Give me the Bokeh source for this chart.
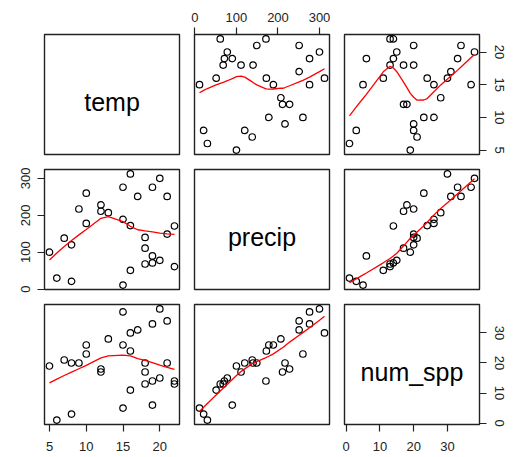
import numpy as np
from bokeh.plotting import figure
from bokeh.models import Range1d, LinearAxis, FixedTicker
from bokeh.layouts import column, row
from bokeh.embed import file_html
from bokeh.resources import INLINE
from bokeh.core.properties import value

# ---- data ----
names = ["temp", "precip", "num_spp"]
temp = [5, 6, 7, 8, 8, 9, 10, 10, 12, 12, 13, 15, 15, 15, 16, 16, 16, 17,
        18, 18, 18, 19, 19, 19, 20, 20, 21, 21, 22, 22]
precip = [100, 30, 138, 120, 21, 217, 260, 178, 228, 211, 207, 276, 189, 11,
          312, 172, 51, 251, 140, 111, 68, 276, 90, 71, 300, 78, 251, 149, 171, 61]
num_spp = [19, 1, 21, 20, 3, 20, 23, 26, 18, 17, 28, 37, 26, 5, 30, 24, 11, 31,
           20, 17, 13, 33, 6, 14, 38, 15, 34, 20, 14, 13]
tick_temp = [5, 10, 15, 20]
tick_precip = [0, 100, 200, 300]
tick_num = [0, 10, 20, 30]

data = {"temp": temp, "precip": precip, "num_spp": num_spp}
ticks = {"temp": tick_temp, "precip": tick_precip, "num_spp": tick_num}


def r_lowess(x, y, f=2 / 3, iters=3):
    """Port of R's clowess (stats::lowess)."""
    x = np.asarray(x, float)
    y = np.asarray(y, float)
    o = np.argsort(x, kind="stable")
    x = x[o]
    y = y[o]
    n = len(x)
    ns = max(2, min(n, int(f * n + 1e-7)))
    rng = x[-1] - x[0]
    delta = 0.01 * rng
    rw = np.ones(n)
    ys = np.zeros(n)

    def lowest(xs, nleft, nright, userw):
        h = max(xs - x[nleft], x[nright] - xs)
        h9 = 0.999 * h
        h1 = 0.001 * h
        w = np.zeros(n)
        a = 0.0
        j = nleft
        while j < n:
            r = abs(x[j] - xs)
            if r <= h9:
                if r <= h1:
                    w[j] = 1.0
                else:
                    w[j] = (1 - (r / h) ** 3) ** 3
                if userw:
                    w[j] *= rw[j]
                a += w[j]
            elif x[j] > xs:
                break
            j += 1
        nrt = j - 1
        if a <= 0:
            return None
        sl = slice(nleft, nrt + 1)
        w[sl] /= a
        if h > 0:
            a = np.sum(w[sl] * x[sl])
            b = xs - a
            c = np.sum(w[sl] * (x[sl] - a) ** 2)
            if np.sqrt(c) > 0.001 * rng:
                b /= c
                w[sl] *= b * (x[sl] - a) + 1.0
        return np.sum(w[sl] * y[sl])

    it = 1
    while it <= iters + 1:
        nleft, nright, last, i = 0, ns - 1, -1, 0
        while True:
            if nright < n - 1:
                d1 = x[i] - x[nleft]
                d2 = x[nright + 1] - x[i]
                if d1 > d2:
                    nleft += 1
                    nright += 1
                    continue
            v = lowest(x[i], nleft, nright, it > 1)
            ys[i] = y[i] if v is None else v
            if last < i - 1:
                denom = x[i] - x[last]
                for j in range(last + 1, i):
                    alpha = (x[j] - x[last]) / denom
                    ys[j] = alpha * ys[i] + (1 - alpha) * ys[last]
            last = i
            cut = x[last] + delta
            i = last + 1
            while i < n:
                if x[i] > cut:
                    break
                if x[i] == x[last]:
                    ys[i] = ys[last]
                    last = i
                i += 1
            i = max(last + 1, i - 1)
            if last >= n - 1:
                break
        res = y - ys
        sc = np.sum(np.abs(res)) / n
        if it > iters:
            break
        ar = np.sort(np.abs(res))
        m1 = n // 2
        if n % 2 == 0:
            cmad = 3.0 * (ar[m1] + ar[n - m1 - 1])
        else:
            cmad = 6.0 * ar[m1]
        if cmad < 1e-7 * sc:
            break
        c9, c1 = 0.999 * cmad, 0.001 * cmad
        r = np.abs(res)
        rw = np.where(r <= c1, 1.0, np.where(r <= c9, (1 - (r / cmad) ** 2) ** 2, 0.0))
        it += 1
    return x, ys


def padded(v):
    lo, hi = min(v), max(v)
    d = 0.04 * (hi - lo)
    return lo - d, hi + d


FW, FH = 135, 120
col_b = [(44, 7), (8, 8), (7, 30)]
row_b = [(34, 7), (8, 7), (8, 32)]
standoff = {"above": 6, "below": 10, "left": 7, "right": 8}
FONT = "Liberation Sans"


def add_axis(p, side, var):
    ax = LinearAxis(ticker=FixedTicker(ticks=ticks[var], minor_ticks=[]),
                    axis_line_color=None,
                    major_tick_out=7, major_tick_in=0,
                    minor_tick_out=0, minor_tick_in=0,
                    major_tick_line_color="#222222",
                    major_tick_line_width=1.2,
                    major_label_text_font=FONT,
                    major_label_text_font_size="13px",
                    major_label_text_color="#222222",
                    major_label_standoff=standoff[side])
    if side in ("left", "right"):
        ax.major_label_orientation = "vertical"
    p.add_layout(ax, side)


rows = []
for i in range(3):
    figs = []
    for j in range(3):
        xv, yv = names[j], names[i]
        l, r = col_b[j]
        t, b = row_b[i]
        x0, x1 = padded(data[xv])
        y0, y1 = padded(data[yv])
        p = figure(width=FW + l + r, height=FH + t + b,
                   x_range=Range1d(x0, x1), y_range=Range1d(y0, y1),
                   x_axis_location=None, y_axis_location=None,
                   toolbar_location=None, output_backend="svg",
                   min_border_left=l, min_border_right=r,
                   min_border_top=t, min_border_bottom=b,
                   background_fill_color="white", border_fill_color="white",
                   outline_line_color="#222222", outline_line_width=1.4,
                   outline_line_alpha=1.0)
        p.grid.visible = False
        if i == j:
            p.text(x=[(x0 + x1) / 2], y=[(y0 + y1) / 2], text=[names[i]],
                   text_align="center", text_baseline="alphabetic", y_offset=7,
                   text_font=value(FONT), text_font_size="25px",
                   text_color="black")
        else:
            p.scatter(data[xv], data[yv], marker="circle", size=6.5,
                      fill_color=None, line_color="black", line_width=1.2)
            lx, ly = r_lowess(data[xv], data[yv])
            p.line(lx, ly, line_color="red", line_width=1.3)
        # R pairs() axis placement
        if i == 0 and j % 2 == 1:
            add_axis(p, "above", xv)
        if i == 2 and j % 2 == 0:
            add_axis(p, "below", xv)
        if j == 0 and i % 2 == 1:
            add_axis(p, "left", yv)
        if j == 2 and i % 2 == 0:
            add_axis(p, "right", yv)
        figs.append(p)
    rows.append(row(*figs, spacing=0))

layout = column(*rows, spacing=0)
open("out.html", "w").write(file_html(layout, INLINE))
